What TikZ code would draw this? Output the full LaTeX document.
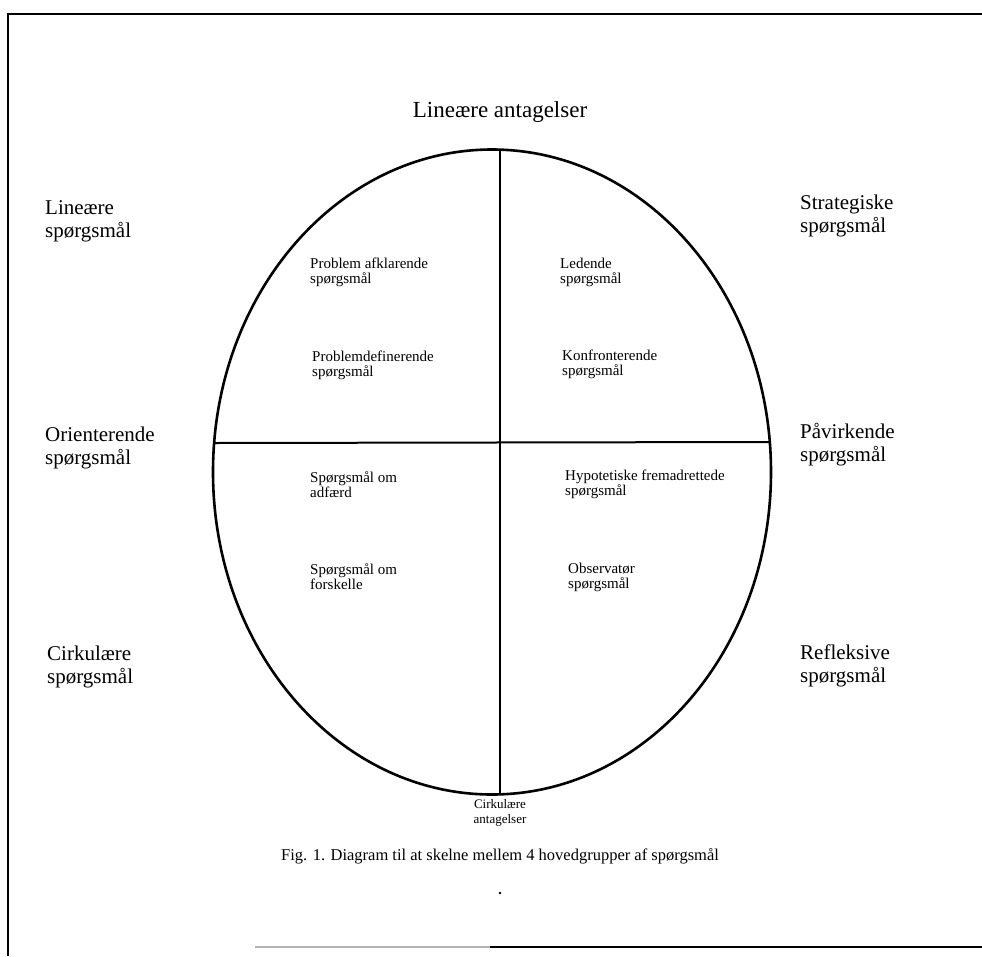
\documentclass[tikz,border=0pt]{standalone}
\usepackage{fontspec}
\setmainfont{Liberation Serif}
\begin{document}
\begin{tikzpicture}[x=1pt,y=-1pt,
  outerlbl/.style={font=\fontsize{21}{23}\selectfont, align=left, inner sep=0pt, anchor=west},
  innerlbl/.style={font=\fontsize{15}{15}\selectfont, align=left, inner sep=0pt, anchor=west},
  frameline/.style={line width=2.2pt},
  divider/.style={line width=2pt}]
\useasboundingbox (0,0) rectangle (982,956);
% frame
\draw[frameline] (8,956) -- (8,14) -- (982,14);
\draw[line width=1.5pt, black!30] (255,947) -- (490,947);
\draw[frameline] (490,947) -- (982,947);
% ellipse
\draw[line width=2.6pt] (492,472) ellipse [x radius=279, y radius=322.5];
\coordinate (vtop) at (500,149.6);
\coordinate (vbot) at (500,794.4);
\coordinate (hleft) at (214,443);
\coordinate (hright) at (770,442);
\draw[divider] (vtop) -- (vbot);
\draw[divider] (hleft) -- (hright);
% top / bottom
\node[font=\fontsize{23}{25}\selectfont, inner sep=0pt] (la) at (500,112) {Lineære antagelser};
\node[font=\fontsize{13}{15}\selectfont, align=center, inner sep=0pt] (ca) at (500,813) {Cirkulære\\antagelser};
% outer labels
\node[outerlbl] (ls) at (45,221) {Lineære\\spørgsmål};
\node[outerlbl] (os) at (45,448) {Orienterende\\spørgsmål};
\node[outerlbl] (cs) at (47,667) {Cirkulære\\spørgsmål};
\node[outerlbl] (ss) at (800,216) {Strategiske\\spørgsmål};
\node[outerlbl] (ps) at (800,445) {Påvirkende\\spørgsmål};
\node[outerlbl] (rs) at (800,666) {Refleksive\\spørgsmål};
% inner labels
\node[innerlbl] (pa) at (310,272) {Problem afklarende\\spørgsmål};
\node[innerlbl] (pd) at (312,365) {Problemdefinerende\\spørgsmål};
\node[innerlbl] (le) at (560,272) {Ledende\\spørgsmål};
\node[innerlbl] (ko) at (562,364) {Konfronterende\\spørgsmål};
\node[innerlbl] (sa) at (310,485) {Spørgsmål om\\adfærd};
\node[innerlbl] (sf) at (310,577) {Spørgsmål om\\forskelle};
\node[innerlbl] (hy) at (565,484) {Hypotetiske fremadrettede\\spørgsmål};
\node[innerlbl] (ob) at (568,577) {Observatør\\spørgsmål};
% caption
\node[font=\fontsize{16.5}{18}\selectfont, inner sep=0pt] (cap) at (500,856) {Fig. 1. Diagram til at skelne mellem 4 hovedgrupper af spørgsmål};
\fill (500,893) circle (1.3);
\end{tikzpicture}
\end{document}
